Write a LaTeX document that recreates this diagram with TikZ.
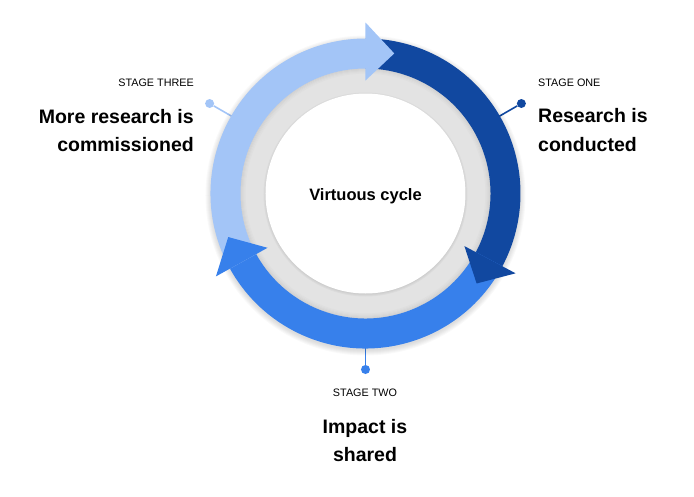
\documentclass[tikz,border=0pt]{standalone}
\usepackage{fontspec}
\setmainfont{Liberation Sans}
\definecolor{darkb}{HTML}{1148A0}
\definecolor{midb}{HTML}{3780EB}
\definecolor{lightb}{HTML}{A3C5F7}
\definecolor{ringgray}{HTML}{E3E3E3}
\definecolor{txt}{HTML}{000000}
\begin{document}
\begin{tikzpicture}[x=1pt,y=1pt,
  stagelbl/.style={font=\fontsize{10.8}{12}\selectfont, inner sep=0pt, text=txt},
  headlbl/.style={font=\fontsize{19.5}{24}\selectfont\bfseries, inner sep=0pt, text=txt},
  centerlbl/.style={font=\fontsize{16.5}{20}\selectfont\bfseries, inner sep=0pt, text=txt},
  dotnode/.style={circle, fill=#1, inner sep=0pt, minimum size=9pt},
  leader/.style={draw=#1, line width=1.6pt}]
\useasboundingbox (-365.5,-302.5) rectangle (328.5,193.5);

% leader lines and dots
\coordinate (r1) at (30:150);
\coordinate (r2) at (270:150);
\coordinate (r3) at (150:150);
\node[dotnode=darkb] (d1) at (30:180) {};
\node[dotnode=midb] (d2) at (270:176) {};
\node[dotnode=lightb] (d3) at (150:180) {};
\draw[leader=darkb] (r1) -- (d1);
\draw[leader=midb] (r2) -- (d2);
\draw[leader=lightb] (r3) -- (d3);

% outer soft shadow
\foreach \i in {1,...,6}{\fill[black, opacity=0.025] (0,-2) circle[radius={154+\i}];}

% gray ring
\fill[ringgray] (0,0) circle[radius=126];
\foreach \i in {0,...,5}{\pgfmathsetmacro\sh{(6-\i)*1.6}
  \draw[line width=1.1pt, draw=black!\sh!ringgray] (0,0) circle[radius={125.5-\i}];}
\foreach \i in {1,2,3}{\fill[black, opacity=0.03] (0,-1) circle[radius={99+\i}];}
\fill[white] (0,0) circle[radius=100];

% arrow bands
\fill[darkb] (90:155) arc[start angle=90, end angle=-28.5, radius=155]
  -- (-28.5:125) arc[start angle=-28.5, end angle=90, radius=125] -- cycle;
\fill[midb] (-28:155) arc[start angle=-28, end angle=-151.5, radius=155]
  -- (-151.5:125) arc[start angle=-151.5, end angle=-28, radius=125] -- cycle;
\fill[lightb] (209:155) arc[start angle=209, end angle=89.5, radius=155]
  -- (89.5:125) arc[start angle=89.5, end angle=209, radius=125] -- cycle;

% arrow heads
\fill[darkb] (-28:112) -- (-28:170) -- (-39:143) -- cycle;
\fill[midb] (-151:112) -- (-151:171) -- (-162.4:144) -- cycle;
\fill[lightb] (90:113) -- (90:171) -- (78.4:143) -- cycle;

% texts
\node[centerlbl, anchor=base] (vc) at (0,-7.2) {Virtuous cycle};

\node[stagelbl, anchor=base west] (s1) at (172.5,107.5) {STAGE ONE};
\node[headlbl, anchor=base west] (h1a) at (172.5,70.8) {Research is};
\node[headlbl, anchor=base west] (h1b) at (172.5,41.8) {conducted};

\node[stagelbl, anchor=base east] (s3) at (-171.5,107.5) {STAGE THREE};
\node[headlbl, anchor=base east] (h3a) at (-171.5,70.2) {More research is};
\node[headlbl, anchor=base east] (h3b) at (-171.5,41.8) {commissioned};

\node[stagelbl, anchor=base] (s2) at (-0.5,-202.5) {STAGE TWO};
\node[headlbl, anchor=base] (h2a) at (-0.5,-239.8) {Impact is};
\node[headlbl, anchor=base] (h2b) at (-0.5,-268.2) {shared};
\end{tikzpicture}
\end{document}
